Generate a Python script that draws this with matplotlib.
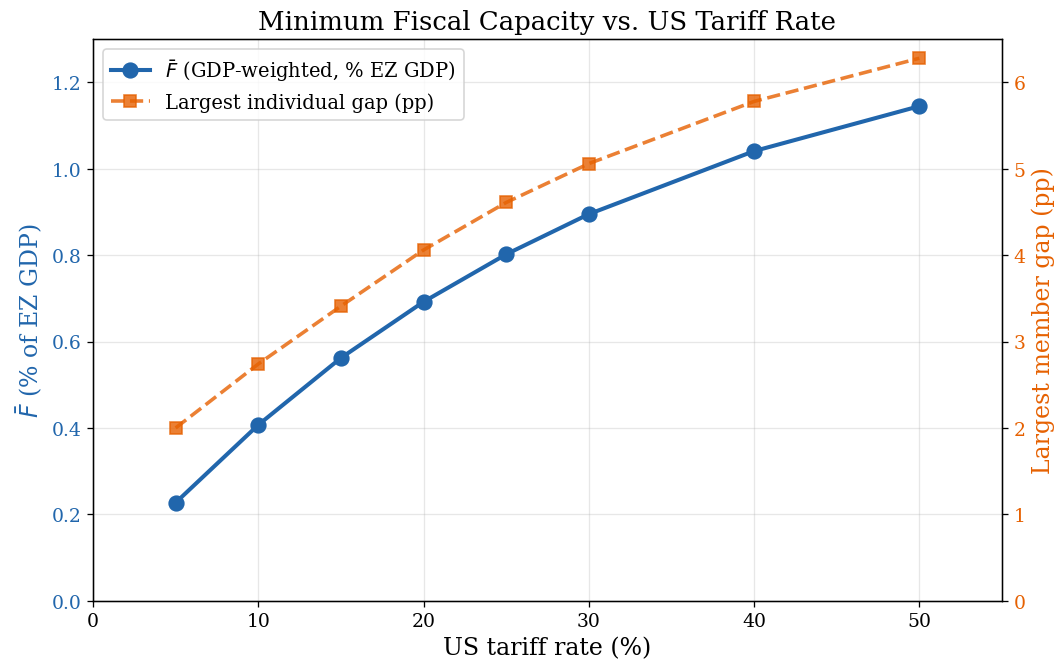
import matplotlib
matplotlib.use('Agg')
import matplotlib.pyplot as plt

# US tariff rate (%)
tariff = [5, 10, 15, 20, 25, 30, 40, 50]
# GDP-weighted minimum fiscal capacity (% EZ GDP)
f_bar = [0.227, 0.407, 0.562, 0.692, 0.802, 0.895, 1.041, 1.145]
# largest individual member gap (pp)
max_gap = [2.00, 2.74, 3.41, 4.06, 4.61, 5.06, 5.78, 6.28]

blue = '#2166ac'
orange = '#e66101'

plt.rcParams['font.family'] = 'DejaVu Serif'

fig, ax = plt.subplots(figsize=(9.085, 5.726), dpi=117)
fig.subplots_adjust(left=0.0875, right=0.9426, bottom=0.102, top=0.94)

l1, = ax.plot(tariff, f_bar, color=blue, marker='o', markersize=9, linewidth=2.5,
              label=r'$\bar{F}$ (GDP-weighted, % EZ GDP)')
ax.set_xlabel('US tariff rate (%)', fontsize=14.5)
ax.set_ylabel(r'$\bar{F}$ (% of EZ GDP)', fontsize=14.5, color=blue)
ax.tick_params(axis='y', labelcolor=blue, labelsize=11.5)
ax.tick_params(axis='x', labelsize=11.5)
ax.set_xlim(0, 55)
ax.set_ylim(0, 1.3)
ax.grid(True, alpha=0.3)

ax2 = ax.twinx()
l2, = ax2.plot(tariff, max_gap, color=orange, marker='s', markersize=7.5, linewidth=2.2,
               linestyle='--', alpha=0.8, label='Largest individual gap (pp)')
ax2.set_ylabel('Largest member gap (pp)', fontsize=14.5, color=orange)
ax2.tick_params(axis='y', labelcolor=orange, labelsize=11.5)
ax2.set_ylim(0, 6.5)

ax.legend([l1, l2], [l1.get_label(), l2.get_label()], loc='upper left', fontsize=12)
ax.set_title('Minimum Fiscal Capacity vs. US Tariff Rate', fontsize=16)

plt.savefig('out.png', dpi=117)
